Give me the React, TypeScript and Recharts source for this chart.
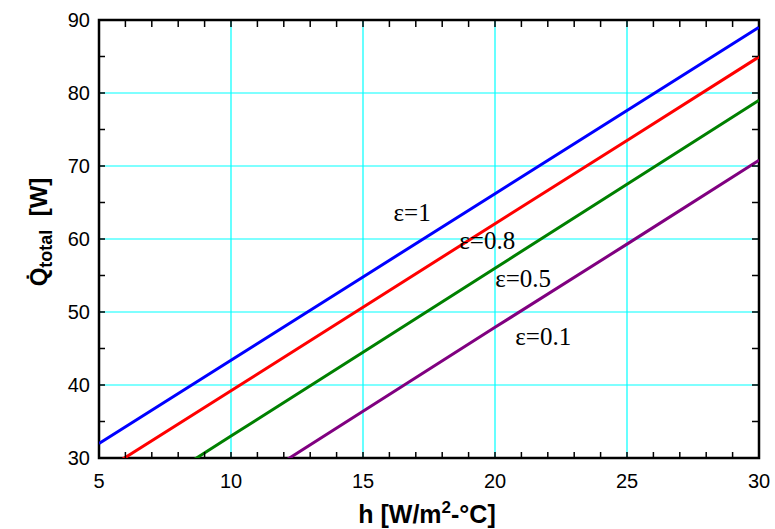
import { LineChart, Line, XAxis, YAxis, CartesianGrid, ReferenceDot, ReferenceArea, Label } from "recharts";

const hValues = [5, 10, 15, 20, 25, 30];
const eps1 = [32.0, 43.4, 54.8, 66.2, 77.6, 89.0];
const eps08 = [27.8, 39.2, 50.65, 62.1, 73.5, 84.95];
const eps05 = [21.5, 33.0, 44.5, 56.0, 67.5, 79.0];
const eps01 = [13.4, 24.9, 36.4, 47.9, 59.3, 70.8];

const xTicks = [5, 6, 7, 8, 9, 10, 11, 12, 13, 14, 15, 16, 17, 18, 19, 20, 21, 22, 23, 24, 25, 26, 27, 28, 29, 30];
const yTicks = [30, 35, 40, 45, 50, 55, 60, 65, 70, 75, 80, 85, 90];
const xGrid = [10, 15, 20, 25];
const yGrid = [40, 50, 60, 70, 80];

const noteTexts = ["ε=1", "ε=0.8", "ε=0.5", "ε=0.1"];
const noteX = [16.16, 18.65, 20.01, 20.77];
const noteY = [63.7, 59.87, 54.66, 46.71];

const data = hValues.map((h, i) => ({
  h,
  e1: eps1[i],
  e08: eps08[i],
  e05: eps05[i],
  e01: eps01[i],
}));

const SANS = "'Liberation Sans', Arial, sans-serif";
const SERIF = "'Liberation Serif', 'Times New Roman', serif";

const BottomTick = (props: any) => {
  const { x, y, payload } = props;
  const major = payload.value % 5 === 0;
  return (
    <g>
      <line x1={x} x2={x} y1={y} y2={y - 6} stroke="#000" strokeWidth={1.5} />
      {major && (
        <text x={x} y={y + 30} textAnchor="middle" fontSize={20} fontFamily={SANS} fill="#000">
          {payload.value}
        </text>
      )}
    </g>
  );
};

const TopTick = (props: any) => {
  const { x, y } = props;
  return <line x1={x} x2={x} y1={y + 1} y2={y + 7} stroke="#000" strokeWidth={1.5} />;
};

const LeftTick = (props: any) => {
  const { x, y, payload } = props;
  const major = payload.value % 10 === 0;
  return (
    <g>
      <line x1={x} x2={x + 6} y1={y} y2={y} stroke="#000" strokeWidth={1.5} />
      {major && (
        <text x={x - 9} y={y} dy="0.36em" textAnchor="end" fontSize={20} fontFamily={SANS} fill="#000">
          {payload.value}
        </text>
      )}
    </g>
  );
};

const RightTick = (props: any) => {
  const { x, y } = props;
  return <line x1={x - 1} x2={x - 7} y1={y} y2={y} stroke="#000" strokeWidth={1.5} />;
};

const XTitle = (props: any) => {
  const { x, y, width } = props.viewBox;
  return (
    <text x={x + width / 2 - 2} y={y + 65} textAnchor="middle" fontSize={25} fontWeight="bold" fontFamily={SANS} fill="#000">
      <tspan>h [W/m</tspan>
      <tspan dy={-10} fontSize={17}>2</tspan>
      <tspan dy={10}>-°C]</tspan>
    </text>
  );
};

const YTitle = () => {
  const cx = 47;
  const cy = 232;
  return (
    <text x={cx} y={cy} transform={`rotate(-90, ${cx}, ${cy})`} textAnchor="middle" fontSize={24} fontWeight="bold" fontFamily={SANS} fill="#000">
      <tspan>{"Q\u0307"}</tspan>
      <tspan dy={5} fontSize={18}>total</tspan>
      <tspan dy={-5}>{"\u00a0\u00a0[W]"}</tspan>
    </text>
  );
};

const Note = (text: string) => (props: any) => (
  <text x={props.cx} y={props.cy} dy="0.35em" fontSize={25} fontFamily={SERIF} fill="#000">
    {text}
  </text>
);

export default function App() {
  return (
    <div style={{ position: "absolute", left: 0, top: 0, background: "#fff" }}>
      <LineChart width={775} height={529} data={data} margin={{ top: 19, right: 15, bottom: 0, left: 0 }}>
        <CartesianGrid
          xAxisId="bottom"
          yAxisId="left"
          stroke="#00ffff"
          strokeWidth={1.2}
          verticalValues={xGrid}
          horizontalValues={yGrid}
        />
        <XAxis
          xAxisId="bottom"
          dataKey="h"
          type="number"
          domain={[5, 30]}
          ticks={xTicks}
          interval={0}
          allowDataOverflow
          height={71}
          tickSize={0}
          tickMargin={0}
          tick={<BottomTick />}
          axisLine={false}
        >
          <Label content={<XTitle />} />
        </XAxis>
        <XAxis
          xAxisId="top"
          orientation="top"
          dataKey="h"
          type="number"
          domain={[5, 30]}
          ticks={xTicks}
          interval={0}
          allowDataOverflow
          height={1}
          tickSize={0}
          tickMargin={0}
          tick={<TopTick />}
          axisLine={false}
        />
        <YAxis
          yAxisId="left"
          type="number"
          domain={[30, 90]}
          ticks={yTicks}
          interval={0}
          allowDataOverflow
          width={99}
          tickSize={0}
          tickMargin={0}
          tick={<LeftTick />}
          axisLine={false}
        >
          <Label content={<YTitle />} />
        </YAxis>
        <YAxis
          yAxisId="right"
          orientation="right"
          type="number"
          domain={[30, 90]}
          ticks={yTicks}
          interval={0}
          allowDataOverflow
          width={1}
          tickSize={0}
          tickMargin={0}
          tick={<RightTick />}
          axisLine={false}
        />
        <Line xAxisId="bottom" yAxisId="left" type="linear" dataKey="e1" stroke="#0000ff" strokeWidth={3} dot={false} isAnimationActive={false} />
        <Line xAxisId="bottom" yAxisId="left" type="linear" dataKey="e08" stroke="#ff0000" strokeWidth={3} dot={false} isAnimationActive={false} />
        <Line xAxisId="bottom" yAxisId="left" type="linear" dataKey="e05" stroke="#008000" strokeWidth={3} dot={false} isAnimationActive={false} />
        <Line xAxisId="bottom" yAxisId="left" type="linear" dataKey="e01" stroke="#800080" strokeWidth={3} dot={false} isAnimationActive={false} />
        <ReferenceArea
          xAxisId="bottom"
          yAxisId="left"
          x1={5}
          x2={30}
          y1={30}
          y2={90}
          fill="none"
          fillOpacity={0}
          stroke="#000"
          strokeWidth={2.5}
          strokeOpacity={1}
        />
        {noteTexts.map((t, i) => (
          <ReferenceDot key={t} xAxisId="bottom" yAxisId="left" x={noteX[i]} y={noteY[i]} r={0} shape={Note(t)} />
        ))}
      </LineChart>
    </div>
  );
}
